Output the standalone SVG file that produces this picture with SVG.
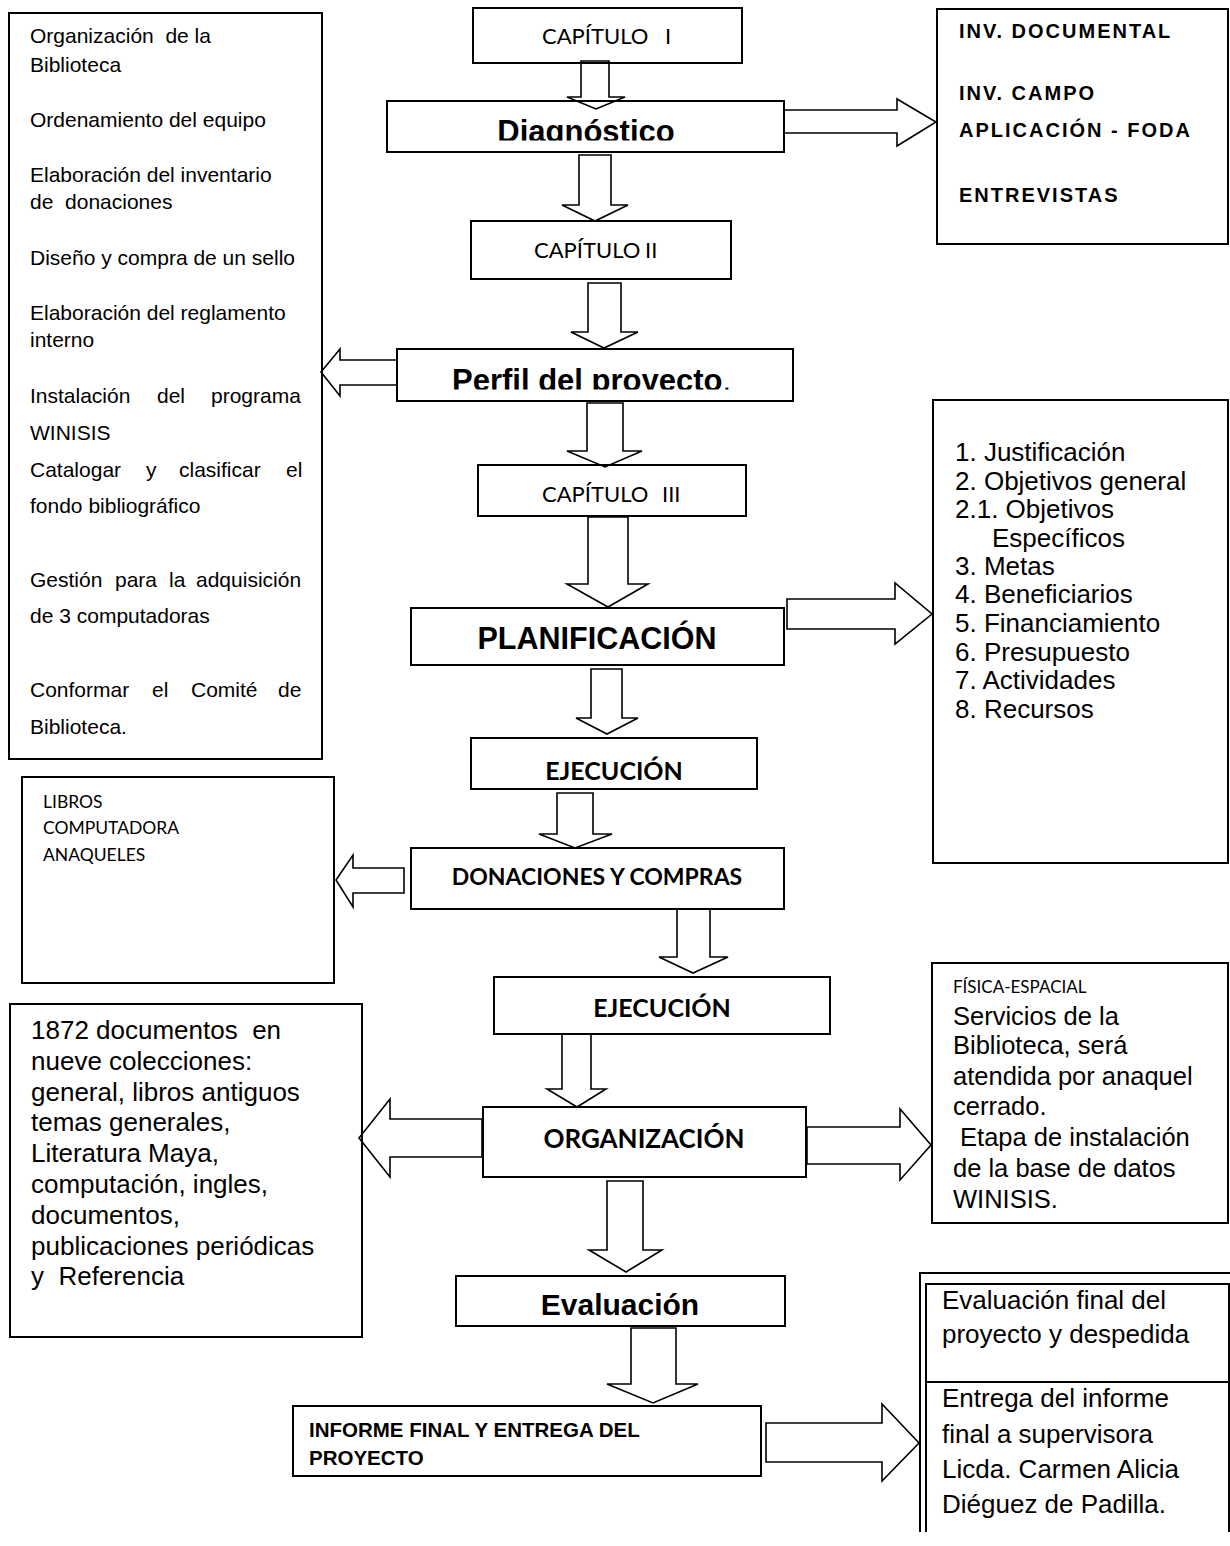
<svg xmlns="http://www.w3.org/2000/svg" width="1230" height="1546" viewBox="0 0 1230 1546">
<style>
.bx{fill:none;stroke:#000;stroke-width:2}
.ar{fill:#fff;stroke:#000;stroke-width:1.6;stroke-linejoin:miter}
.a{font-family:"Liberation Sans",Arial,sans-serif;fill:#000;white-space:pre}
.c{font-family:Lato,"Liberation Sans",sans-serif;fill:#000;white-space:pre}
.s21{font-size:21px}
.s26{font-size:26px}
.s25{font-size:25.5px}
.b{font-weight:bold}
.m{text-anchor:middle}
</style>
<defs>
<clipPath id="clipDiag"><rect x="387" y="101" width="397" height="39.5"/></clipPath>
<clipPath id="clipPerf"><rect x="397" y="349" width="396" height="40.5"/></clipPath>
</defs>
<rect width="1230" height="1546" fill="#fff"/>

<g id="connectors">
<polygon class="ar" points="581,61 609,61 609,97 625,97 596,109 567,97 581,97"/>
<polygon class="ar" points="579,155 611,155 611,205 628,205 595,221 562,205 579,205"/>
<polygon class="ar" points="588,283 621,283 621,332 638,332 604,348 571,332 588,332"/>
<polygon class="ar" points="587,403 623,403 623,451 642,451 605,467 567,451 587,451"/>
<polygon class="ar" points="588,517 628,517 628,584 648,584 608,607 567,584 588,584"/>
<polygon class="ar" points="591,669 622,669 622,718 638,718 607,734 576,718 591,718"/>
<polygon class="ar" points="557,793 593,793 593,834 612,834 575,848 539,834 557,834"/>
<polygon class="ar" points="677,909 710,909 710,957 728,957 693,973 659,957 677,957"/>
<polygon class="ar" points="562,1034 591,1034 591,1089 606,1089 577,1107 547,1089 562,1089"/>
<polygon class="ar" points="607,1181 643,1181 643,1250 662,1250 626,1272 589,1250 607,1250"/>
<polygon class="ar" points="631,1328 676,1328 676,1384 698,1384 653,1403 607,1384 631,1384"/>
<polygon class="ar" points="784,110 897,110 897,99 936,122 897,146 897,133 784,133"/>
<polygon class="ar" points="787,599 895,599 895,583 932,614 895,644 895,629 787,629"/>
<polygon class="ar" points="807,1127 900,1127 900,1109 931,1145 900,1180 900,1164 807,1164"/>
<polygon class="ar" points="766,1423 882,1423 882,1404 919,1443 882,1481 882,1462 766,1462"/>
<polygon class="ar" points="397,360 340,360 340,349 321,372 340,396 340,385 397,385"/>
<polygon class="ar" points="404,868 353,868 353,855 336,880 353,907 353,893 404,893"/>
<polygon class="ar" points="482,1119 390,1119 390,1099 359,1138 390,1177 390,1157 482,1157"/>
</g>

<g id="n-left-activities">
<rect class="bx" x="9" y="13" width="313" height="746"/>
<text class="a s21" x="30" y="43">Organización  de la</text>
<text class="a s21" x="30" y="72">Biblioteca</text>
<text class="a s21" x="30" y="127">Ordenamiento del equipo</text>
<text class="a s21" x="30" y="182">Elaboración del inventario</text>
<text class="a s21" x="30" y="209">de  donaciones</text>
<text class="a s21" x="30" y="265">Diseño y compra de un sello</text>
<text class="a s21" x="30" y="320">Elaboración del reglamento</text>
<text class="a s21" x="30" y="347">interno</text>
<text class="a s21" y="403"><tspan x="30">Instalación</tspan> <tspan x="157">del</tspan> <tspan x="211">programa</tspan></text>
<text class="a s21" x="30" y="440">WINISIS</text>
<text class="a s21" y="477"><tspan x="30">Catalogar</tspan> <tspan x="146">y</tspan> <tspan x="179">clasificar</tspan> <tspan x="286">el</tspan></text>
<text class="a s21" x="30" y="513">fondo bibliográfico</text>
<text class="a s21" y="587"><tspan x="30">Gestión</tspan> <tspan x="115">para</tspan> <tspan x="169">la</tspan> <tspan x="196">adquisición</tspan></text>
<text class="a s21" x="30" y="623">de 3 computadoras</text>
<text class="a s21" y="697"><tspan x="30">Conformar</tspan> <tspan x="152">el</tspan> <tspan x="191">Comité</tspan> <tspan x="278">de</tspan></text>
<text class="a s21" x="30" y="734">Biblioteca.</text>
</g>

<g id="n-cap1">
<rect class="bx" x="473" y="8" width="269" height="55"/>
<text class="c" font-size="22" x="542" y="44">CAPÍTULO <tspan x="665">I</tspan></text>
</g>

<g id="n-diagnostico">
<rect class="bx" x="387" y="101" width="397" height="51"/>
<text class="a b m" font-size="31" x="586" y="142" clip-path="url(#clipDiag)">Diagnóstico</text>
</g>

<g id="n-inv">
<rect class="bx" x="937" y="9" width="291" height="235"/>
<text class="a b" font-size="20" letter-spacing="2" x="959" y="38">INV. DOCUMENTAL</text>
<text class="a b" font-size="20" letter-spacing="2" x="959" y="100">INV. CAMPO</text>
<text class="a b" font-size="20" letter-spacing="2" x="959" y="137">APLICACIÓN - FODA</text>
<text class="a b" font-size="20" letter-spacing="2" x="959" y="202">ENTREVISTAS</text>
</g>

<g id="n-cap2">
<rect class="bx" x="471" y="221" width="260" height="58"/>
<text class="c" font-size="22" x="534" y="258">CAPÍTULO <tspan x="645">II</tspan></text>
</g>

<g id="n-perfil">
<rect class="bx" x="397" y="349" width="396" height="52"/>
<text class="a" font-size="31" x="452" y="390.5" clip-path="url(#clipPerf)"><tspan font-weight="bold">Perfil del proyecto</tspan>.</text>
</g>

<g id="n-cap3">
<rect class="bx" x="478" y="465" width="268" height="51"/>
<text class="c" font-size="22" x="542" y="502">CAPÍTULO <tspan x="662">III</tspan></text>
</g>

<g id="n-planificacion">
<rect class="bx" x="411" y="608" width="373" height="57"/>
<text class="a b m" font-size="30.5" x="597" y="649">PLANIFICACIÓN</text>
</g>

<g id="n-lista">
<rect class="bx" x="933" y="400" width="295" height="463"/>
<text class="a s26" x="955" y="461">1. Justificación</text>
<text class="a s26" x="955" y="490">2. Objetivos general</text>
<text class="a s26" x="955" y="518">2.1. Objetivos</text>
<text class="a s26" x="992" y="547">Específicos</text>
<text class="a s26" x="955" y="575">3. Metas</text>
<text class="a s26" x="955" y="603">4. Beneficiarios</text>
<text class="a s26" x="955" y="632">5. Financiamiento</text>
<text class="a s26" x="955" y="661">6. Presupuesto</text>
<text class="a s26" x="955" y="689">7. Actividades</text>
<text class="a s26" x="955" y="718">8. Recursos</text>
</g>

<g id="n-ejecucion1">
<rect class="bx" x="471" y="738" width="286" height="51"/>
<text class="c b m" font-size="25" x="614" y="780">EJECUCIÓN</text>
</g>

<g id="n-libros">
<rect class="bx" x="22" y="777" width="312" height="206"/>
<text class="c" font-size="17.5" x="43" y="808">LIBROS</text>
<text class="c" font-size="17.5" x="43" y="834">COMPUTADORA</text>
<text class="c" font-size="17.5" x="43" y="861">ANAQUELES</text>
</g>

<g id="n-donaciones">
<rect class="bx" x="411" y="848" width="373" height="61"/>
<text class="c b m" font-size="23" x="597" y="885">DONACIONES Y COMPRAS</text>
</g>

<g id="n-ejecucion2">
<rect class="bx" x="494" y="977" width="336" height="57"/>
<text class="c b m" font-size="25" x="662" y="1017">EJECUCIÓN</text>
</g>

<g id="n-fisica">
<rect class="bx" x="932" y="963" width="296" height="260"/>
<text class="c" font-size="17" x="953" y="993">FÍSICA-ESPACIAL</text>
<text class="a s25" x="953" y="1025">Servicios de la</text>
<text class="a s25" x="953" y="1054">Biblioteca, será</text>
<text class="a s25" x="953" y="1085">atendida por anaquel</text>
<text class="a s25" x="953" y="1115">cerrado.</text>
<text class="a s25" x="953" y="1146"> Etapa de instalación</text>
<text class="a s25" x="953" y="1177">de la base de datos</text>
<text class="a s25" x="953" y="1208">WINISIS.</text>
</g>

<g id="n-colecciones">
<rect class="bx" x="10" y="1004" width="352" height="333"/>
<text class="a s26" x="31" y="1039">1872 documentos  en</text>
<text class="a s26" x="31" y="1070">nueve colecciones:</text>
<text class="a s26" x="31" y="1101">general, libros antiguos</text>
<text class="a s26" x="31" y="1131">temas generales,</text>
<text class="a s26" x="31" y="1162">Literatura Maya,</text>
<text class="a s26" x="31" y="1193">computación, ingles,</text>
<text class="a s26" x="31" y="1224">documentos,</text>
<text class="a s26" x="31" y="1255">publicaciones periódicas</text>
<text class="a s26" x="31" y="1285">y  Referencia</text>
</g>

<g id="n-organizacion">
<rect class="bx" x="483" y="1107" width="323" height="70"/>
<text class="c b m" font-size="26" x="644" y="1148">ORGANIZACIÓN</text>
</g>

<g id="n-evaluacion">
<rect class="bx" x="456" y="1276" width="329" height="50"/>
<text class="a b m" font-size="30" x="620" y="1315">Evaluación</text>
</g>

<g id="n-informe">
<rect class="bx" x="293" y="1406" width="468" height="70"/>
<text class="a b" font-size="20.5" x="309" y="1437">INFORME FINAL Y ENTREGA DEL</text>
<text class="a b" font-size="20.5" x="309" y="1465">PROYECTO</text>
</g>

<g id="n-final">
<path class="bx" d="M920,1532 V1273 H1230"/>
<path class="bx" d="M926,1532 V1284 H1229 V1532"/>
<line class="bx" x1="926" y1="1382" x2="1229" y2="1382"/>
<text class="a s26" x="942" y="1309">Evaluación final del</text>
<text class="a s26" x="942" y="1343">proyecto y despedida</text>
<text class="a s26" x="942" y="1407">Entrega del informe</text>
<text class="a s26" x="942" y="1443">final a supervisora</text>
<text class="a s26" x="942" y="1478">Licda. Carmen Alicia</text>
<text class="a s26" x="942" y="1513">Diéguez de Padilla.</text>
</g>
</svg>
